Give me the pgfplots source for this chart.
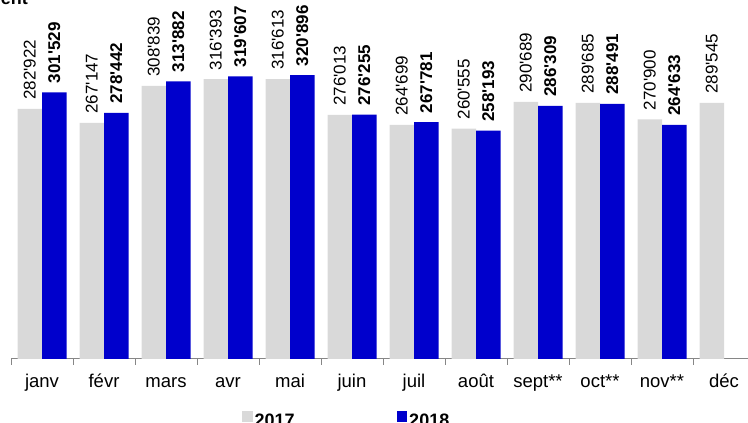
\documentclass[border=0pt]{standalone}
\usepackage{fontspec}
\setmainfont{Liberation Sans}
\usepackage{pgfplots}
\pgfplotsset{compat=1.18}
\definecolor{bar17}{RGB}{217,217,217}
\definecolor{bar18}{RGB}{0,0,204}
\definecolor{axgray}{RGB}{134,134,134}
\begin{document}
\begin{tikzpicture}
\path[use as bounding box] (0,0) rectangle (748pt,423pt);
\node[anchor=base east, inner sep=0pt, font=\fontsize{18}{20}\selectfont\bfseries] at (28pt,418pt) {ent};
\begin{axis}[
  at={(11pt,64pt)}, anchor=south west,
  scale only axis, width=744pt, height=309.5pt,
  xmin=-0.5, xmax=11.5, ymin=0, ymax=350000,
  clip=false,
  ybar=0pt, bar width=24.5pt,
  hide y axis,
  axis x line*=bottom,
  x axis line style={axgray, line width=1pt},
  xtick={0,...,11},
  xticklabels={janv,févr,mars,avr,mai,juin,juil,août,sept**,oct**,nov**,déc},
  major x tick style={draw=none},
  minor xtick={-0.5,0.5,...,11.5},
  minor x tick style={axgray, line width=1pt},
  minor tick length=6pt,
  xtick align=outside,
  xticklabel style={anchor=base, yshift=-24pt, font=\fontsize{18.5}{20}\selectfont},
  nodes near coords={\pgfmathprintnumber[fixed, precision=0, 1000 sep={\textquotesingle}, assume math mode=true]{\pgfplotspointmeta}},
  every node near coord/.append style={rotate=90, anchor=west, inner xsep=9pt, inner ysep=0pt, text=black, font=\fontsize{17}{17}\selectfont},
  legend columns=2,
  legend style={draw=none, fill=none, at={(axis description cs:0,0)}, anchor=north west,
    xshift=228pt, yshift=-50pt, font=\fontsize{18}{18}\selectfont\bfseries,
    /tikz/every even column/.append style={column sep=100pt}},
]
\addplot[fill=bar17, draw=none,
  legend image code/.code={\fill[bar17] (0pt,-1pt) rectangle (10.5pt,9.5pt);}]
  coordinates {(0,282922) (1,267147) (2,308839) (3,316393) (4,316613) (5,276013)
    (6,264699) (7,260555) (8,290689) (9,289685) (10,270900) (11,289545)};
\addlegendentry{2017}
\addplot[fill=bar18, draw=none,
  every node near coord/.append style={font=\fontsize{17}{17}\selectfont\bfseries},
  legend image code/.code={\fill[bar18] (0pt,-1pt) rectangle (10.5pt,9.5pt);}]
  coordinates {(0,301529) (1,278442) (2,313882) (3,319607) (4,320896) (5,276255)
    (6,267781) (7,258193) (8,286309) (9,288491) (10,264633)};
\addlegendentry{2018}
\end{axis}
\end{tikzpicture}
\end{document}
